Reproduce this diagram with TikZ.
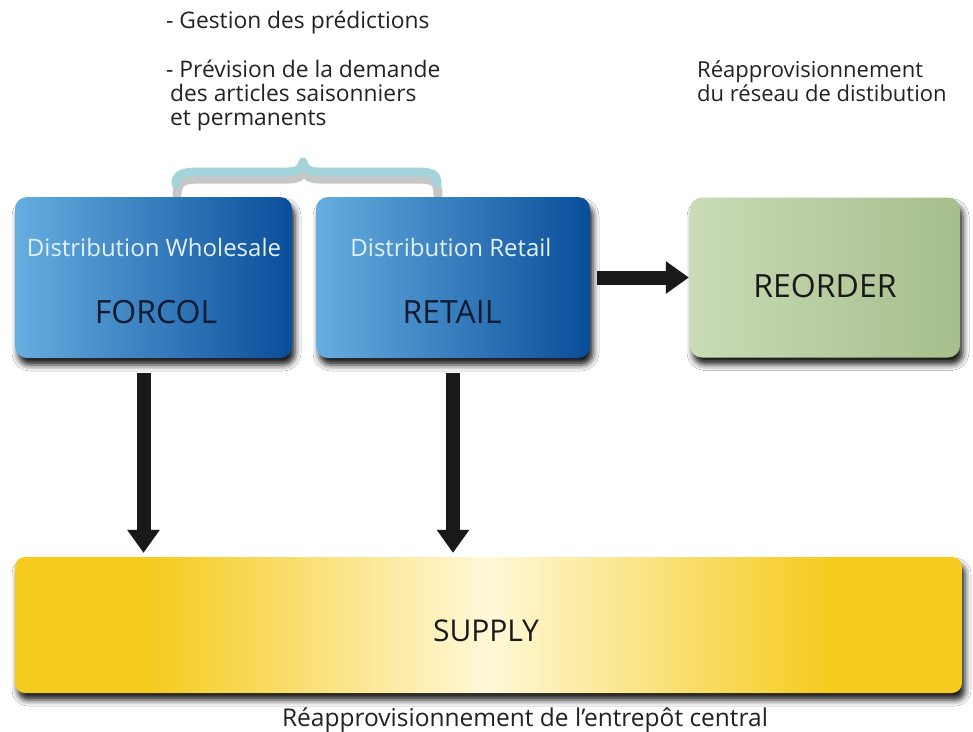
\documentclass[tikz,border=0pt]{standalone}
\usepackage{fontspec}
\setmainfont{Open Sans}
\usetikzlibrary{arrows.meta,shadows.blur,calc}

\definecolor{boxlight}{HTML}{66AEE0}
\definecolor{boxdark}{HTML}{0A4D9A}
\definecolor{greenlight}{HTML}{CADBB5}
\definecolor{greendark}{HTML}{A6BE8C}
\definecolor{supplyyellow}{HTML}{F5CB1E}
\definecolor{supplypale}{HTML}{FFF8D8}
\definecolor{bracecol}{HTML}{A5D3DA}
\definecolor{titlecol}{HTML}{E2F1FB}
\definecolor{namecol}{HTML}{0D1B33}
\definecolor{notecol}{HTML}{222222}

\pgfdeclarehorizontalshading{supplyshade}{100bp}{%
  color(0bp)=(supplyyellow); color(32bp)=(supplyyellow);
  color(50bp)=(supplypale); color(68bp)=(supplyyellow);
  color(100bp)=(supplyyellow)}

\tikzset{
  card/.style={rounded corners=12pt, inner sep=0pt,
    blur shadow={shadow xshift=3pt, shadow yshift=-7pt, shadow blur radius=6pt, shadow opacity=90}},
  bluecard/.style={card, left color=boxlight, right color=boxdark},
  greencard/.style={card, left color=greenlight, right color=greendark},
  supplycard/.style={card, shading=supplyshade},
  bigarrow/.style={line width=14pt, -{Triangle[width=31pt,length=23pt]}, color=black!90},
  arrowshadow/.style={line width=14pt, -{Triangle[width=31pt,length=23pt]}, color=black, opacity=0.22},
  note/.style={anchor=base west, inner sep=0pt, font=\fontsize{22}{26}\selectfont, text=notecol},
  leftnote/.style={note, font=\fontsize{22.8}{27}\selectfont},
  cardtitle/.style={anchor=base, inner sep=0pt, font=\fontsize{24}{28}\selectfont, text=titlecol},
  cardname/.style={anchor=base, inner sep=0pt, font=\fontsize{32}{38}\selectfont, text=namecol},
  bracepath/.style={line cap=round, line join=round},
}

\begin{document}
\begin{tikzpicture}[x=1pt,y=-1pt]
\useasboundingbox[fill=white] (0,0) rectangle (973,731);

% forecasting brace above the two distribution boxes
\draw[bracepath, line width=9pt, color=black!22, xshift=1pt, yshift=-5pt]
  (176,190) .. controls (176,176) and (183,174) .. (200,174) -- (288,174)
  .. controls (298,174) and (302,170) .. (303,164)
  .. controls (304,170) and (308,174) .. (318,174) -- (416,174)
  .. controls (432,174) and (437,176) .. (437,190);
\draw[bracepath, line width=9pt, color=bracecol]
  (176,184) .. controls (176,174) and (183,172) .. (200,172) -- (288,172)
  .. controls (298,172) and (302,168) .. (303,162)
  .. controls (304,168) and (308,172) .. (318,172) -- (416,172)
  .. controls (432,172) and (437,174) .. (437,184);

% boxes
\node[bluecard, minimum width=277pt, minimum height=161pt] (forcol) at (153.5,277.5) {};
\node[bluecard, minimum width=274pt, minimum height=161pt] (retail) at (453,277.5) {};
\node[greencard, minimum width=270pt, minimum height=160pt] (reorder) at (825,277.5) {};
\node[supplycard, minimum width=947pt, minimum height=136pt, rounded corners=10pt] (supply) at (488.5,625) {};

% box labels
\node[cardtitle] (forcoltitle) at (154,256) {Distribution Wholesale};
\node[cardname] (forcolname) at (156,323) {FORCOL};
\node[cardtitle] (retailtitle) at (451,256) {Distribution Retail};
\node[cardname] (retailname) at (452,323) {RETAIL};
\node[cardname, text=black!90] (reordername) at (825,297) {REORDER};
\node[cardname, text=black!90, font=\fontsize{30}{36}\selectfont] (supplyname) at (486,641) {SUPPLY};

% notes
\node[leftnote] (n1) at (166,28) {- Gestion des prédictions};
\node[leftnote] (n2) at (166,77) {- Prévision de la demande};
\node[leftnote] (n3) at (170,101) {des articles saisonniers};
\node[leftnote] (n4) at (170,125) {et permanents};
\node[note] (r1) at (697,77) {Réapprovisionnement};
\node[note] (r2) at (697,101) {du réseau de distibution};
\node[note, anchor=base, font=\fontsize{24.5}{28}\selectfont] (cap) at (525,726) {Réapprovisionnement de l'entrepôt central};

% flow arrows
\coordinate (fs) at ([xshift=-10pt, yshift=-15pt]forcol.south);
\coordinate (ft) at (fs |- supply.north);
\coordinate (rs) at ([yshift=-15pt]retail.south);
\coordinate (rt) at (rs |- supply.north);
\coordinate (hs) at ([xshift=7pt]retail.east);
\coordinate (ht) at (reorder.west);

\draw[arrowshadow, xshift=4pt, yshift=-3pt] (fs) -- ([yshift=4pt]ft);
\draw[arrowshadow, xshift=4pt, yshift=-3pt] (rs) -- ([yshift=4pt]rt);
\draw[arrowshadow, xshift=3pt, yshift=-4pt] (hs) -- ([xshift=-1pt]ht);
\draw[bigarrow] (fs) -- ([yshift=4pt]ft);
\draw[bigarrow] (rs) -- ([yshift=4pt]rt);
\draw[bigarrow] (hs) -- ([xshift=-1pt]ht);
\end{tikzpicture}
\end{document}
